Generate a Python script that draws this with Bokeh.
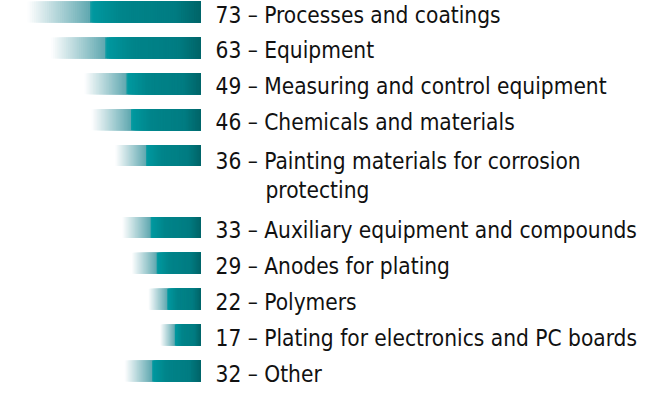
import numpy as np
from bokeh.plotting import figure
from bokeh.models import Range1d, ColumnDataSource
from bokeh.core.properties import value
from bokeh.embed import file_html
from bokeh.resources import INLINE

# ---- data ----
values = [73, 63, 49, 46, 36, 33, 29, 22, 17, 32]
labels = [
    "Processes and coatings",
    "Equipment",
    "Measuring and control equipment",
    "Chemicals and materials",
    "Painting materials for corrosion\nprotecting",
    "Auxiliary equipment and compounds",
    "Anodes for plating",
    "Polymers",
    "Plating for electronics and PC boards",
    "Other",
]

# gradient stops (fraction along bar, color)
grad_pos = [0.0, 0.36, 0.37, 0.55, 0.85, 1.0]
grad_col = [(255, 255, 255), (96, 168, 176), (0, 153, 160), (0, 132, 138), (0, 124, 130), (0, 100, 104)]

W, H = 650, 386
PX_PER_UNIT = 2.37
X0 = 200  # pixel position of value 0
PITCH = 35.9
TOP = 11.5

p = figure(width=W, height=H, output_backend="svg", toolbar_location=None,
           x_range=Range1d(-X0 / PX_PER_UNIT, (W - X0) / PX_PER_UNIT),
           y_range=Range1d((H - TOP) / PITCH, -TOP / PITCH),
           min_border=0, outline_line_color=None)
p.axis.visible = False
p.grid.visible = False
p.background_fill_color = "white"
p.border_fill_color = "white"

# row positions: the two-line label takes an extra row
rows = []
r = 0
for lab in labels:
    rows.append(r)
    r += 1 + lab.count("\n")

def interp_color(t):
    c = [np.interp(t, grad_pos, [g[i] for g in grad_col]) for i in range(3)]
    return "#%02x%02x%02x" % tuple(int(round(v)) for v in c)

N = 80
lefts, rights, tops, bottoms, colors = [], [], [], [], []
bh = 21 / PITCH
for v, y in zip(values, rows):
    for k in range(N):
        lefts.append(-v + k * v / N)
        rights.append(0)          # overlapping slices: no seams
        tops.append(y - bh / 2)
        bottoms.append(y + bh / 2)
        colors.append(interp_color((k + 0.5) / N))

p.quad(left=lefts, right=rights, top=tops, bottom=bottoms, fill_color=colors,
       line_color=None)

font = value("DejaVu Sans Condensed")
FS = "22.5px"
BASE = 2.5        # empirical offset: baseline lands on bar bottom
LINE = 29.0       # line spacing of wrapped label
first_y, first_txt, first_off = [], [], []
cont_y, cont_txt, cont_off = [], [], []
for v, lab, y in zip(values, labels, rows):
    parts = lab.split("\n")
    off = BASE + (3 if len(parts) > 1 else 0)
    first_y.append(y)
    first_txt.append(f"{v} \u2013 {parts[0]}")
    first_off.append(off)
    for j, extra in enumerate(parts[1:], start=1):
        cont_y.append(y + j)
        cont_txt.append(extra)
        cont_off.append(off + j * (LINE - PITCH))

src = ColumnDataSource(dict(x=[0] * len(first_y), y=first_y, t=first_txt, off=first_off))
p.text(x="x", y="y", text="t", source=src, x_offset=15, y_offset="off",
       text_font=font, text_font_size=FS, text_color="#111111",
       text_baseline="alphabetic", text_align="left")

src2 = ColumnDataSource(dict(x=[0] * len(cont_y), y=cont_y, t=cont_txt, off=cont_off))
p.text(x="x", y="y", text="t", source=src2, x_offset=65, y_offset="off",
       text_font=font, text_font_size=FS, text_color="#111111",
       text_baseline="alphabetic", text_align="left")

open("out.html", "w").write(file_html(p, INLINE))
